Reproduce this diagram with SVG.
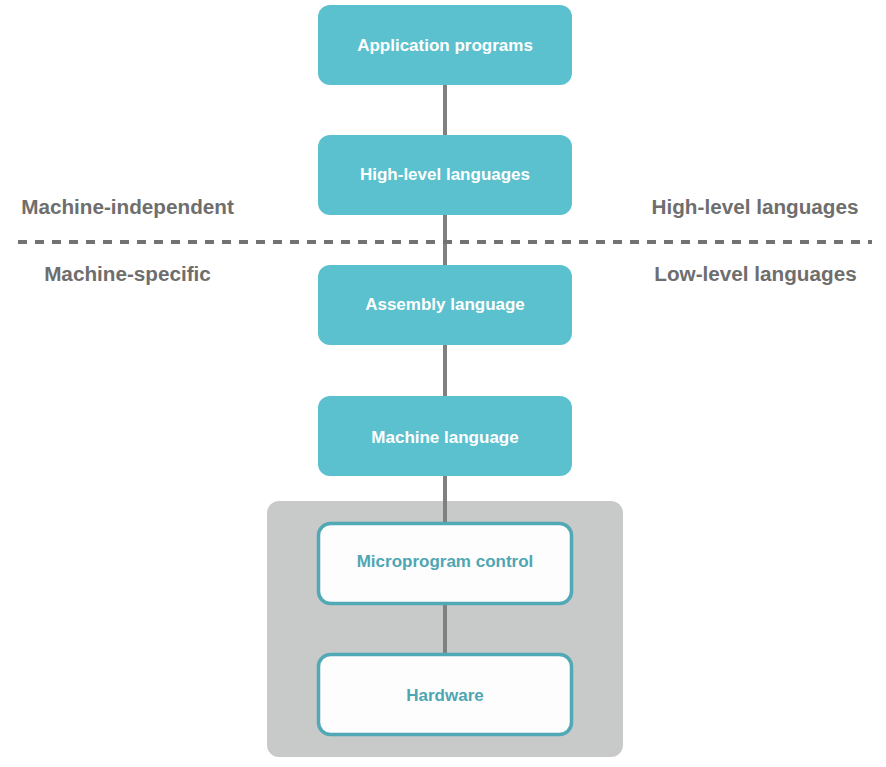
<svg xmlns="http://www.w3.org/2000/svg" width="886" height="767" viewBox="0 0 886 767">
<style>
.box{fill:#5bc1ce;}
.wbox{fill:#fdfdfd;stroke:#52a9b6;stroke-width:3.5;}
.bt{font-family:"Liberation Sans",Arial,sans-serif;font-weight:bold;font-size:17px;fill:#ffffff;text-anchor:middle;}
.wt{font-family:"Liberation Sans",Arial,sans-serif;font-weight:bold;font-size:17px;fill:#4fa6b3;text-anchor:middle;}
.side{font-family:"Liberation Sans",Arial,sans-serif;font-weight:bold;font-size:20.7px;fill:#6e6e6e;text-anchor:middle;}
.conn{stroke:#808080;stroke-width:4;fill:none;}
</style>
<rect id="container" x="267" y="501" width="356" height="256" rx="12" fill="#c8c9c9"/>
<g id="connectors">
<line class="conn" x1="445" y1="85" x2="445" y2="135"/>
<line class="conn" x1="445" y1="215" x2="445" y2="265"/>
<line class="conn" x1="445" y1="345" x2="445" y2="396"/>
<line class="conn" x1="445" y1="476" x2="445" y2="522"/>
<line class="conn" x1="445" y1="605" x2="445" y2="653"/>
</g>
<line id="divider" x1="18" y1="242" x2="872" y2="242" stroke="#727272" stroke-width="4" stroke-dasharray="9 8"/>
<g id="n1"><rect class="box" x="318" y="5" width="254" height="80" rx="12"/><text class="bt" x="445" y="51">Application programs</text></g>
<g id="n2"><rect class="box" x="318" y="135" width="254" height="80" rx="12"/><text class="bt" x="445" y="180">High-level languages</text></g>
<g id="n3"><rect class="box" x="318" y="265" width="254" height="80" rx="12"/><text class="bt" x="445" y="310">Assembly language</text></g>
<g id="n4"><rect class="box" x="318" y="396" width="254" height="80" rx="12"/><text class="bt" x="445" y="443">Machine language</text></g>
<g id="n5"><rect class="wbox" x="318.5" y="523.5" width="253" height="80" rx="12"/><text class="wt" x="445" y="567">Microprogram control</text></g>
<g id="n6"><rect class="wbox" x="318.5" y="654.5" width="253" height="80" rx="12"/><text class="wt" x="445" y="701">Hardware</text></g>
<g id="labels">
<text class="side" x="127.5" y="214">Machine-independent</text>
<text class="side" x="127.5" y="281">Machine-specific</text>
<text class="side" x="755" y="214">High-level languages</text>
<text class="side" x="755.5" y="281">Low-level languages</text>
</g>
</svg>
